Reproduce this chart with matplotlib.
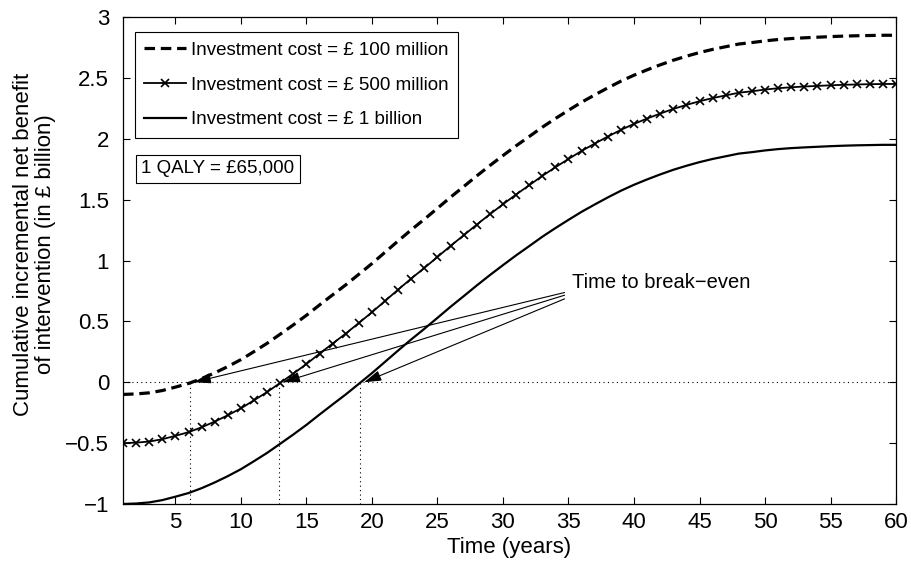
import numpy as np
import matplotlib
matplotlib.use("Agg")
import matplotlib.pyplot as plt

plt.rcParams['font.family'] = ['Liberation Sans', 'DejaVu Sans']

# years 1..60
years = list(range(1, 61))
# cumulative gross benefit (in £ billion), before investment cost
gross_benefit = [0.000, 0.004, 0.013, 0.032, 0.060, 0.090, 0.130, 0.177, 0.229, 0.286,
                 0.352, 0.420, 0.495, 0.571, 0.650, 0.735, 0.818, 0.900, 0.987, 1.075,
                 1.168, 1.261, 1.352, 1.439, 1.529, 1.620, 1.707, 1.795, 1.880, 1.962,
                 2.042, 2.118, 2.195, 2.266, 2.334, 2.400, 2.460, 2.518, 2.573, 2.622,
                 2.666, 2.707, 2.745, 2.778, 2.808, 2.834, 2.856, 2.878, 2.890, 2.904,
                 2.915, 2.923, 2.929, 2.934, 2.939, 2.943, 2.946, 2.948, 2.950, 2.950]
costs = [0.1, 0.5, 1.0]
labels = ["Investment cost = \u00a3 100 million",
          "Investment cost = \u00a3 500 million",
          "Investment cost = \u00a3 1 billion"]
breakeven = [6.1, 12.9, 19.1]
note_xy = (34.7, [0.737, 0.715, 0.685])

fig = plt.figure(figsize=(9.12, 5.63), dpi=100)
ax = fig.add_axes([0.1349, 0.1048, 0.8476, 0.865])

x = np.array(years)
g = np.array(gross_benefit)
ax.plot(x, g - costs[0], color='k', lw=2.3, dashes=(3.3, 1.8), label=labels[0])
ax.plot(x, g - costs[1], color='k', lw=1.3, marker='x', ms=6, mew=1.2, label=labels[1])
ax.plot(x, g - costs[2], color='k', lw=1.6, label=labels[2])

# break-even guides
ax.axhline(0, color='k', lw=0.8, ls=(0, (1, 3)))
for b in breakeven:
    ax.plot([b, b], [-1, 0], color='k', lw=0.8, ls=(0, (1, 3)))

for b, ty in zip(breakeven, note_xy[1]):
    ax.annotate("", xy=(b + 0.3, 0), xytext=(note_xy[0], ty),
                arrowprops=dict(arrowstyle='-|>,head_length=1.05,head_width=0.32',
                                color='k', lw=0.8, shrinkA=0, shrinkB=0))
ax.text(35.3, 0.82, "Time to break\u2212even", fontsize=14.5, va='center', ha='left')

ax.text(0.0235, 0.688, "1 QALY = \u00a365,000", transform=ax.transAxes, fontsize=13.5,
        va='center', ha='left',
        bbox=dict(boxstyle='square,pad=0.28', fc='white', ec='k', lw=0.8))

ax.set_xlim(1, 60)
ax.set_ylim(-1, 3)
ax.set_xticks(range(5, 61, 5))
ax.set_yticks([-1, -0.5, 0, 0.5, 1, 1.5, 2, 2.5, 3])
ax.set_yticklabels(['\u22121', '\u22120.5', '0', '0.5', '1', '1.5', '2', '2.5', '3'])
ax.tick_params(direction='in', top=True, right=True, labelsize=16, length=5, width=0.8)
ax.tick_params(axis='y', pad=10)
ax.tick_params(axis='x', pad=6)
for s in ax.spines.values():
    s.set_linewidth(0.9)

ax.set_xlabel("Time (years)", fontsize=16, labelpad=3)
ax.set_ylabel("Cumulative incremental net benefit\nof intervention (in \u00a3 billion)",
              fontsize=16, linespacing=1.05)
ax.yaxis.set_label_coords(-0.087, 0.533)

leg = ax.legend(loc='upper left', bbox_to_anchor=(0.0155, 0.969), borderaxespad=0,
                fancybox=False, framealpha=1, edgecolor='k', fontsize=13.5,
                handlelength=2.2, numpoints=1, borderpad=0.5, labelspacing=0.95,
                handletextpad=0.3)
leg.get_frame().set_linewidth(0.8)

fig.savefig("out.png", dpi=100)
